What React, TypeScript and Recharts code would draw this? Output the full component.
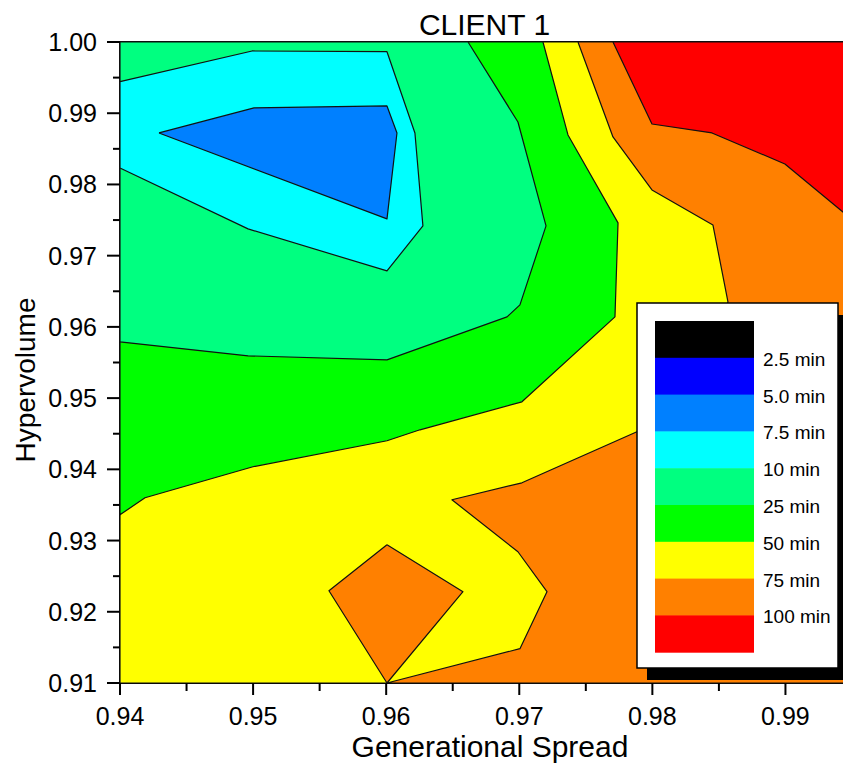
import { ScatterChart, Scatter, XAxis, YAxis, ReferenceLine } from 'recharts'

const FONT = '"Liberation Sans", Arial, sans-serif'

const X_TICKS = [0.94, 0.945, 0.95, 0.955, 0.96, 0.965, 0.97, 0.975, 0.98, 0.985, 0.99, 0.995]
const Y_TICKS = [0.91, 0.915, 0.92, 0.925, 0.93, 0.935, 0.94, 0.945, 0.95, 0.955, 0.96, 0.965, 0.97, 0.975, 0.98, 0.985, 0.99, 0.995, 1.0]

// contour regions as [generational spread, hypervolume] vertices
const PLOT_FRAME = [[0.94, 0.91], [0.94, 1.0], [0.995, 1.0], [0.995, 0.91]]

const BELOW_50 = [
  [0.94, 1.0], [0.97178, 1.0], [0.97366, 0.98695], [0.97742, 0.9746], [0.97719, 0.96141],
  [0.9702, 0.94948], [0.96254, 0.94555], [0.96006, 0.94401], [0.94999, 0.94036],
  [0.94188, 0.93601], [0.94, 0.93362],
]

const BELOW_25 = [
  [0.94, 1.0], [0.96615, 1.0], [0.9699, 0.98877], [0.97201, 0.97418], [0.97005, 0.96309],
  [0.96908, 0.96141], [0.96006, 0.95537], [0.94962, 0.95594], [0.94, 0.9579],
]

const BELOW_10 = [
  [0.94, 0.99443], [0.94992, 0.99874], [0.96006, 0.99864], [0.96216, 0.98723],
  [0.96276, 0.97418], [0.96006, 0.96786], [0.94962, 0.97376], [0.94, 0.98232],
]

const BELOW_7_5 = [
  [0.94293, 0.98723], [0.95007, 0.99074], [0.96006, 0.99102], [0.96081, 0.98723], [0.96006, 0.97516],
]

const ABOVE_75 = [
  [0.97441, 1.0], [0.97704, 0.98667], [0.97997, 0.97923], [0.98455, 0.97432], [0.98568, 0.96351],
  [0.98358, 0.94976], [0.97884, 0.94527], [0.9702, 0.93811], [0.96494, 0.93573], [0.9699, 0.92843],
  [0.97208, 0.92282], [0.97005, 0.91482], [0.96006, 0.91], [0.995, 0.91], [0.995, 1.0],
]

const ABOVE_100 = [
  [0.97704, 1.0], [0.97997, 0.98849], [0.98448, 0.98723], [0.98996, 0.98288], [0.99432, 0.97614],
  [0.995, 0.97508], [0.995, 1.0],
]

const ISLAND_75 = [[0.96006, 0.92941], [0.9557, 0.92296], [0.96006, 0.91], [0.96577, 0.92282]]

const LEVEL_LABELS = ['2.5 min', '5.0 min', '7.5 min', '10 min', '25 min', '50 min', '75 min', '100 min']
const LEVEL_COLORS = ['#000000', '#0000ff', '#0080ff', '#00ffff', '#00ff80', '#00ff00', '#ffff00', '#ff8000', '#ff0000']

const REGIONS = [
  { key: 'base', pts: PLOT_FRAME, color: LEVEL_COLORS[6] },
  { key: 'lt50', pts: BELOW_50, color: LEVEL_COLORS[5] },
  { key: 'lt25', pts: BELOW_25, color: LEVEL_COLORS[4] },
  { key: 'lt10', pts: BELOW_10, color: LEVEL_COLORS[3] },
  { key: 'lt7', pts: BELOW_7_5, color: LEVEL_COLORS[2] },
  { key: 'gt75', pts: ABOVE_75, color: LEVEL_COLORS[7] },
  { key: 'gt100', pts: ABOVE_100, color: LEVEL_COLORS[8] },
  { key: 'island', pts: ISLAND_75, color: LEVEL_COLORS[7] },
]

// closed ring so the stroke goes all the way round
const toRing = (pts: number[][]) => [...pts, pts[0]].map(([x, y]) => ({ x, y }))

const isMajor = (v: number) => Math.round(v * 1000) % 10 === 0

const NoDot = () => <g />

function XTick({ x, y, payload }: any) {
  const v = payload.value as number
  const major = isMajor(v)
  return (
    <g>
      <line x1={x} x2={x} y1={y} y2={y + (major ? 12 : 8)} stroke="#000" strokeWidth={2} />
      {major && (
        <text x={x} y={y + 42} textAnchor="middle" fontSize={25} fontFamily={FONT} fill="#000">
          {v.toFixed(2)}
        </text>
      )}
    </g>
  )
}

function YTick({ x, y, payload }: any) {
  const v = payload.value as number
  const major = isMajor(v)
  return (
    <g>
      <line x1={x} x2={x - (major ? 13 : 7)} y1={y} y2={y} stroke="#000" strokeWidth={2} />
      {major && (
        <text x={x - 23} y={y + 9} textAnchor="end" fontSize={25} fontFamily={FONT} fill="#000">
          {v.toFixed(2)}
        </text>
      )}
    </g>
  )
}

function LevelLegend() {
  const bandH = 36.8
  return (
    <g>
      <rect x={647} y={315} width={205} height={365} fill="#000" />
      <rect x={637} y={303} width={201} height={365} fill="#fff" stroke="#000" strokeWidth={1.5} />
      {LEVEL_COLORS.map((c, i) => (
        <rect key={c} x={655} y={321 + i * bandH} width={99} height={bandH + 0.5} fill={c} />
      ))}
      {LEVEL_LABELS.map((label, i) => (
        <text key={label} x={763} y={321 + (i + 1) * bandH + 8} fontSize={19} fontFamily={FONT} fill="#000">
          {label}
        </text>
      ))}
    </g>
  )
}

export default function App() {
  return (
    <div style={{ position: 'absolute', left: 0, top: 0, width: 843, height: 765, overflow: 'hidden', background: '#fff' }}>
      <ScatterChart width={860} height={765} margin={{ top: 42, right: 8, bottom: 0, left: 0 }}>
        <XAxis
          type="number"
          dataKey="x"
          domain={[0.94, 0.995]}
          ticks={X_TICKS}
          interval={0}
          height={82}
          tickSize={0}
          tickMargin={0}
          tickLine={false}
          tick={<XTick />}
          axisLine={{ stroke: '#000', strokeWidth: 2 }}
        />
        <YAxis
          type="number"
          dataKey="y"
          domain={[0.91, 1.0]}
          ticks={Y_TICKS}
          interval={0}
          width={120}
          tickSize={0}
          tickMargin={0}
          tickLine={false}
          tick={<YTick />}
          axisLine={{ stroke: '#000', strokeWidth: 2 }}
        />
        {REGIONS.map(r => (
          <Scatter
            key={r.key}
            data={toRing(r.pts)}
            shape={NoDot}
            line={{ fill: r.color, stroke: '#111', strokeWidth: 1.2, strokeLinejoin: 'round' }}
            isAnimationActive={false}
          />
        ))}
        <ReferenceLine y={1.0} stroke="#000" strokeWidth={2} />
      </ScatterChart>

      {/* titles and the level key drawn on top of the chart */}
      <svg width={843} height={765} style={{ position: 'absolute', left: 0, top: 0, pointerEvents: 'none' }}>
        <text x={484.5} y={35} textAnchor="middle" fontSize={30} fontFamily={FONT} fill="#000">CLIENT 1</text>
        <text x={490} y={757} textAnchor="middle" fontSize={30} fontFamily={FONT} fill="#000">Generational Spread</text>
        <text x={35} y={380} textAnchor="middle" fontSize={28} fontFamily={FONT} fill="#000" transform="rotate(-90 35 380)">
          Hypervolume
        </text>
        <LevelLegend />
      </svg>
    </div>
  )
}
